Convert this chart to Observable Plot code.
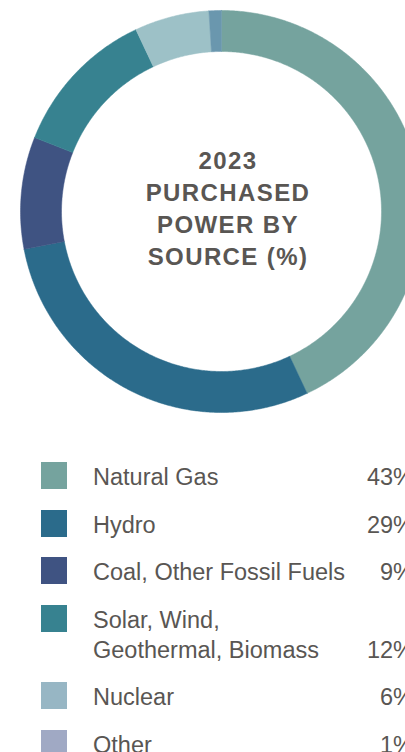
<!DOCTYPE html>
<html>
<head>
<meta charset="utf-8">
<script src="https://cdn.jsdelivr.net/npm/d3@7"></script>
<script src="https://cdn.jsdelivr.net/npm/@observablehq/plot@0.6"></script>
<style>
  html, body { margin: 0; padding: 0; background: #fff; overflow: hidden; }
  body { width: 405px; height: 752px; position: relative; font-family: "Liberation Sans", Arial, sans-serif; color: #595653; }
  #chart { position: absolute; left: 0; top: 0; }
  #chart text { letter-spacing: 1.4px; }
  #legend { position: absolute; left: 0; top: 462px; width: 414px; display: flex; flex-direction: column; gap: 17.5px; }
  .row { position: relative; font-size: 23.5px; line-height: 30px; padding-left: 93px; padding-right: 0; }
  .sw { position: absolute; left: 41px; top: 0; width: 26px; height: 27px; }
  .pct { position: absolute; right: 0; bottom: 0; text-align: right; }
</style>
</head>
<body>
<div id="chart"></div>
<div id="legend"></div>
<script>
const sources = ["Natural Gas", "Hydro", "Coal, Other Fossil Fuels", "Solar, Wind, Geothermal, Biomass", "Nuclear", "Other"];
const legendLines = [["Natural Gas"], ["Hydro"], ["Coal, Other Fossil Fuels"], ["Solar, Wind,", "Geothermal, Biomass"], ["Nuclear"], ["Other"]];
const values = [43, 29, 9, 12, 6, 1];
const ringColors = ["#75a39e", "#2b6b8b", "#3f5382", "#378290", "#9dc1c7", "#6a97ae"];
const legendColors = ["#75a39e", "#2b6b8b", "#3f5382", "#378290", "#97b6c4", "#a0a9c4"];
const centerTitle = "2023\nPURCHASED\nPOWER BY\nSOURCE (%)";

// geometry (pixels == data units)
const W = 405, H = 440, cx = 221, cy = 211, rOuter = 201, rInner = 160;

const total = d3.sum(values);
const pts = [];
let acc = 0;
values.forEach((v, i) => {
  const a0 = acc / total * 2 * Math.PI;
  acc += v;
  const a1 = acc / total * 2 * Math.PI;
  const n = Math.max(2, Math.ceil((a1 - a0) / (Math.PI / 360)));
  const ring = [];
  for (let k = 0; k <= n; k++) {
    const a = a0 + (a1 - a0) * k / n;
    ring.push({source: sources[i], x: rOuter * Math.sin(a), y: rOuter * Math.cos(a)});
  }
  for (let k = n; k >= 0; k--) {
    const a = a0 + (a1 - a0) * k / n;
    ring.push({source: sources[i], x: rInner * Math.sin(a), y: rInner * Math.cos(a)});
  }
  ring.push(ring[0]);
  pts.push(...ring);
});

const plot = Plot.plot({
  width: W,
  height: H,
  margin: 0,
  x: {domain: [-cx, W - cx], axis: null},
  y: {domain: [cy - H, cy], axis: null},
  color: {domain: sources, range: ringColors},
  style: {fontFamily: '"Liberation Sans", Arial, sans-serif', background: "#fff"},
  marks: [
    Plot.line(pts, {x: "x", y: "y", z: "source", fill: "source", stroke: "source", strokeWidth: 0.5, curve: "linear"}),
    Plot.text([centerTitle], {x: () => 6.5, y: () => 4.5, text: d => d, fontSize: 24, fontWeight: "bold", lineHeight: 32 / 24, fill: "#595653", textAnchor: "middle"})
  ]
});
document.getElementById("chart").appendChild(plot);

const legend = document.getElementById("legend");
sources.forEach((s, i) => {
  const row = document.createElement("div");
  row.className = "row";
  const sw = document.createElement("div");
  sw.className = "sw";
  sw.style.background = legendColors[i];
  row.appendChild(sw);
  legendLines[i].forEach(t => {
    const l = document.createElement("div");
    l.textContent = t;
    row.appendChild(l);
  });
  const p = document.createElement("div");
  p.className = "pct";
  p.textContent = values[i] + "%";
  row.appendChild(p);
  legend.appendChild(row);
});
</script>
</body>
</html>
